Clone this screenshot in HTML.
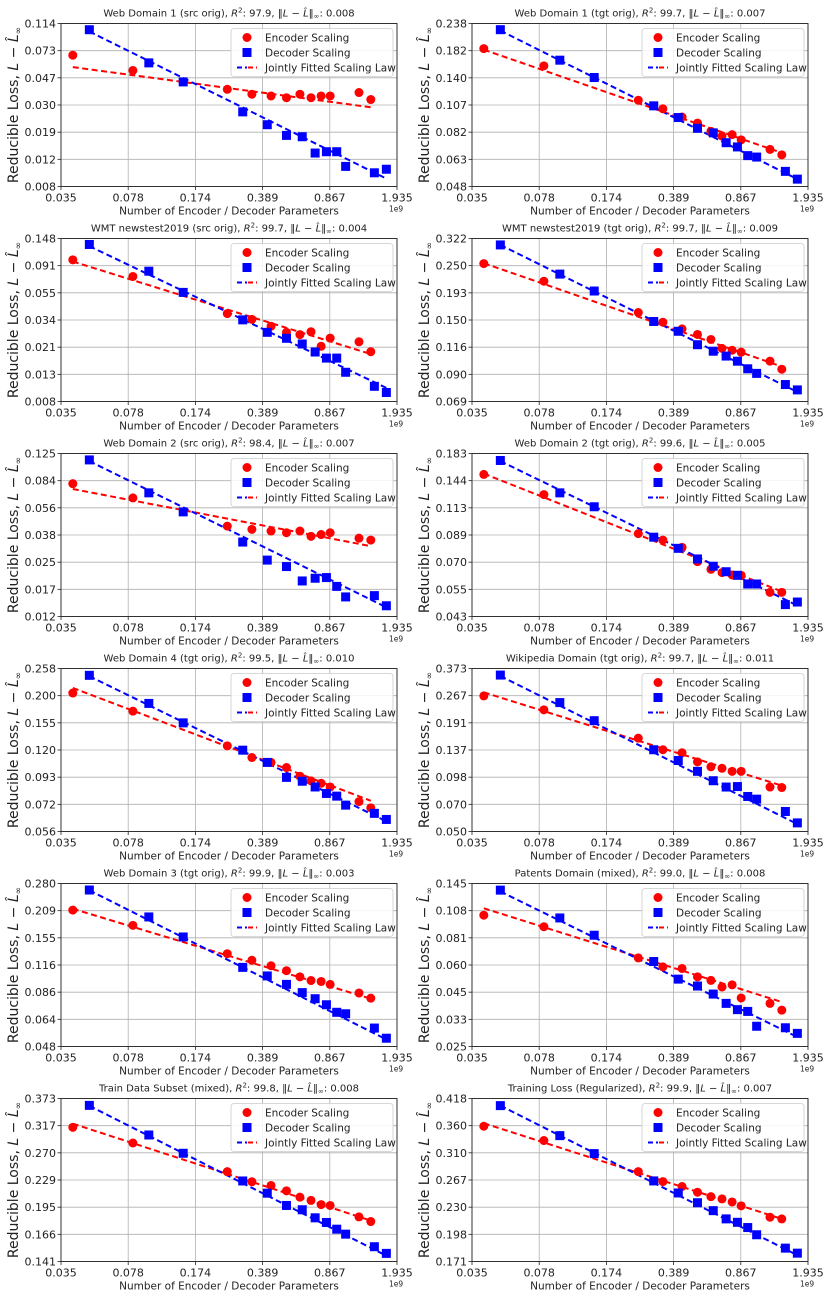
<!DOCTYPE html>
<html><head><meta charset="utf-8"><style>
html,body{margin:0;padding:0;background:#fff;}
svg{display:block;font-family:"DejaVu Sans","Liberation Sans",sans-serif;}
</style></head><body>
<svg id="fig" width="830" height="1297" viewBox="0 0 830 1297" xmlns="http://www.w3.org/2000/svg"></svg>
<script>
// shared x values (in units of 1e9 parameters)
const encX = [0.0403,0.0826,0.255,0.342,0.430,0.517,0.607,0.693,0.782,0.871,1.229,1.415];
const decX = [0.0491,0.0999,0.1506,0.3066,0.411,0.517,0.624,0.728,0.833,0.942,1.048,1.477,1.704];
const xTicks = [0.035,0.078,0.174,0.389,0.867,1.935];
const xTickLabels = ["0.035","0.078","0.174","0.389","0.867","1.935"];

const titles = [
 ["Web Domain 1 (src orig)","97.9","0.008"],
 ["Web Domain 1 (tgt orig)","99.7","0.007"],
 ["WMT newstest2019 (src orig)","99.7","0.004"],
 ["WMT newstest2019 (tgt orig)","99.7","0.009"],
 ["Web Domain 2 (src orig)","98.4","0.007"],
 ["Web Domain 2 (tgt orig)","99.6","0.005"],
 ["Web Domain 4 (tgt orig)","99.5","0.010"],
 ["Wikipedia Domain (tgt orig)","99.7","0.011"],
 ["Web Domain 3 (tgt orig)","99.9","0.003"],
 ["Patents Domain (mixed)","99.0","0.008"],
 ["Train Data Subset (mixed)","99.8","0.008"],
 ["Training Loss (Regularized)","99.9","0.007"]
];
const yTickLabels = [
 ["0.008","0.012","0.019","0.030","0.047","0.073","0.114"],
 ["0.048","0.063","0.082","0.107","0.140","0.182","0.238"],
 ["0.008","0.013","0.021","0.034","0.055","0.091","0.148"],
 ["0.069","0.090","0.116","0.150","0.193","0.250","0.322"],
 ["0.012","0.017","0.025","0.038","0.056","0.084","0.125"],
 ["0.043","0.055","0.070","0.089","0.113","0.144","0.183"],
 ["0.056","0.072","0.093","0.120","0.155","0.200","0.258"],
 ["0.050","0.070","0.098","0.137","0.191","0.267","0.373"],
 ["0.048","0.064","0.086","0.116","0.155","0.209","0.280"],
 ["0.025","0.033","0.045","0.060","0.081","0.108","0.145"],
 ["0.141","0.166","0.195","0.229","0.270","0.317","0.373"],
 ["0.171","0.198","0.230","0.267","0.310","0.360","0.418"]
];
const encY = [
 [0.068,0.053,0.039,0.036,0.035,0.034,0.036,0.034,0.035,0.035,0.037,0.033],
 [0.186,0.157,0.112,0.103,0.095,0.0895,0.0825,0.0788,0.0799,0.0759,0.0691,0.0655],
 [0.101,0.075,0.0386,0.0348,0.0308,0.0276,0.0265,0.0279,0.0215,0.0249,0.0233,0.0195],
 [0.254,0.215,0.160,0.146,0.137,0.130,0.124,0.114,0.112,0.110,0.101,0.0936],
 [0.081,0.066,0.044,0.042,0.041,0.040,0.041,0.038,0.039,0.040,0.037,0.036],
 [0.152,0.127,0.0898,0.0848,0.0795,0.070,0.0654,0.0635,0.0622,0.062,0.0533,0.0533],
 [0.205,0.173,0.125,0.112,0.107,0.102,0.094,0.090,0.088,0.085,0.0741,0.0699],
 [0.266,0.224,0.158,0.137,0.132,0.118,0.111,0.109,0.105,0.105,0.0865,0.086],
 [0.210,0.178,0.131,0.122,0.115,0.109,0.102,0.098,0.097,0.094,0.0856,0.081],
 [0.103,0.091,0.065,0.059,0.058,0.053,0.051,0.0475,0.0486,0.0422,0.0398,0.037],
 [0.314,0.286,0.241,0.227,0.222,0.215,0.207,0.203,0.198,0.197,0.184,0.179],
 [0.359,0.332,0.280,0.265,0.258,0.250,0.244,0.241,0.237,0.232,0.218,0.216]
];
const decY = [
 [0.103,0.060,0.044,0.027,0.0219,0.0184,0.0180,0.0138,0.0141,0.0141,0.0111,0.0100,0.0106],
 [0.224,0.166,0.140,0.106,0.0945,0.085,0.0813,0.0738,0.0708,0.065,0.0641,0.0557,0.0516],
 [0.133,0.0824,0.0564,0.0345,0.0276,0.0248,0.0224,0.0194,0.0174,0.0174,0.0135,0.0105,0.0094],
 [0.303,0.230,0.196,0.147,0.134,0.118,0.111,0.106,0.101,0.094,0.090,0.081,0.077],
 [0.114,0.071,0.054,0.035,0.027,0.0246,0.020,0.0208,0.021,0.0185,0.0159,0.0162,0.014],
 [0.172,0.129,0.114,0.087,0.0788,0.0717,0.0672,0.064,0.062,0.0574,0.0574,0.0478,0.0489],
 [0.242,0.186,0.155,0.120,0.107,0.093,0.0897,0.085,0.080,0.078,0.0717,0.0664,0.0627],
 [0.344,0.245,0.196,0.137,0.120,0.105,0.0935,0.0865,0.087,0.077,0.0745,0.064,0.0556],
 [0.261,0.195,0.157,0.113,0.103,0.094,0.086,0.0805,0.0754,0.0695,0.0684,0.0586,0.0525],
 [0.135,0.100,0.083,0.0625,0.0517,0.048,0.044,0.0398,0.0372,0.0365,0.0311,0.0306,0.0288],
 [0.358,0.300,0.269,0.228,0.212,0.197,0.192,0.183,0.178,0.171,0.166,0.154,0.148],
 [0.402,0.341,0.309,0.266,0.249,0.236,0.226,0.216,0.212,0.206,0.198,0.184,0.179]
];
// fitted line endpoint values [at first x, at last x]
const encFit = [[0.056,0.0291],[0.184,0.0668],[0.098,0.0187],[0.255,0.096],[0.075,0.033],[0.153,0.0537],
 [0.215,0.0747],[0.278,0.088],[0.213,0.0805],[0.111,0.0404],[0.321,0.180],[0.365,0.216]];
const decFit = [[0.100,0.0091],[0.222,0.0516],[0.129,0.0102],[0.303,0.0755],[0.112,0.0137],[0.171,0.0474],
 [0.240,0.0616],[0.340,0.0548],[0.260,0.0518],[0.133,0.0277],[0.357,0.146],[0.402,0.177]];

const NS = "http://www.w3.org/2000/svg";
const fig = document.getElementById("fig");
function mk(tag, attrs, parent){
  const e = document.createElementNS(NS, tag);
  for (const k in attrs) e.setAttribute(k, attrs[k]);
  (parent||fig).appendChild(e);
  return e;
}
const W = 336, H = 163;
for (let p = 0; p < 12; p++) {
  const col = p % 2, row = Math.floor(p / 2);
  const L = col ? 472 : 61, T = 23.5 + row * 215;
  const g = mk("g", {});
  
  
  const ylab = yTickLabels[p];
  const ymin = parseFloat(ylab[0]), ymax = parseFloat(ylab[6]);
  const xmin = xTicks[0], xmax = xTicks[5];
  const sx = v => L + W * Math.log(v / xmin) / Math.log(xmax / xmin);
  const sy = v => T + H - H * Math.log(v / ymin) / Math.log(ymax / ymin);
  // grid
  for (let i = 0; i < 6; i++) {
    const x = L + W * i / 5;
    const gl = mk("line", {x1:x, x2:x, y1:T, y2:T+H, stroke:"#b0b0b0", "stroke-width":0.8}, g);
    
    
    const t = mk("text", {x:x, y:T+H+15, "text-anchor":"middle", "font-size":11, fill:"#222"}, g);
    t.textContent = xTickLabels[i];
    
    
    mk("line", {x1:x, x2:x, y1:T+H, y2:T+H+3.5, stroke:"#222", "stroke-width":0.8}, g);
  }
  for (let i = 0; i < 7; i++) {
    const y = T + H - H * i / 6;
    const gl = mk("line", {x1:L, x2:L+W, y1:y, y2:y, stroke:"#b0b0b0", "stroke-width":0.8}, g);
    
    
    mk("line", {x1:L-3.5, x2:L, y1:y, y2:y, stroke:"#222", "stroke-width":0.8}, g);
    const t = mk("text", {x:L-5, y:y+4, "text-anchor":"end", "font-size":11, fill:"#222"}, g);
    t.textContent = ylab[i];
    
    
  }
  // fit lines
  const ef = mk("line", {x1:sx(encX[0]), y1:sy(encFit[p][0]), x2:sx(encX[encX.length-1]), y2:sy(encFit[p][1]), stroke:"#f00", "stroke-width":2, "stroke-dasharray":"6,3.5"}, g);
  
  
  const df = mk("line", {x1:sx(decX[0]), y1:sy(decFit[p][0]), x2:sx(decX[decX.length-1]), y2:sy(decFit[p][1]), stroke:"#00f", "stroke-width":2, "stroke-dasharray":"6,3.5"}, g);
  
  
  // points
  encX.forEach((x, i) => {
    const c = mk("circle", {cx:sx(x), cy:sy(encY[p][i]), r:4.5, fill:"#f00"}, g);
    
    
  });
  decX.forEach((x, i) => {
    const r = mk("rect", {x:sx(x)-4.5, y:sy(decY[p][i])-4.5, width:9, height:9, fill:"#00f"}, g);
    
    
  });
  // frame
  const fr = mk("rect", {x:L, y:T, width:W, height:H, fill:"none", stroke:"#222", "stroke-width":0.9}, g);
  
  
  // legend
  const lg = mk("g", {}, g);
  
  
  const LX = L + 170, LY = T + 5;
  mk("rect", {x:LX, y:LY, width:162, height:48, rx:3, fill:"#fff", "fill-opacity":0.85, stroke:"#ccc", "stroke-width":0.8}, lg);
  mk("circle", {cx:LX+16, cy:LY+9, r:4.5, fill:"#f00"}, lg);
  mk("rect", {x:LX+11.5, y:LY+19.5, width:9, height:9, fill:"#00f"}, lg);
  mk("line", {x1:LX+6, x2:LX+16, y1:LY+39, y2:LY+39, stroke:"#00f", "stroke-width":2, "stroke-dasharray":"5,3"}, lg);
  mk("line", {x1:LX+17, x2:LX+26, y1:LY+39, y2:LY+39, stroke:"#f00", "stroke-width":2, "stroke-dasharray":"5,3"}, lg);
  [["Encoder Scaling",13],["Decoder Scaling",28],["Jointly Fitted Scaling Law",43]].forEach(([s,dy]) => {
    const t = mk("text", {x:LX+34, y:LY+dy, "font-size":10.5, fill:"#222"}, lg);
    t.textContent = s;
    
    
  });
  // title
  const tt = mk("text", {x:L+W/2, y:T-7, "text-anchor":"middle", "font-size":10, fill:"#222"}, g);
  
  
  tt.innerHTML = titles[p][0] + ', <tspan font-style="italic">R</tspan><tspan font-size="7" dy="-4">2</tspan><tspan dy="4">: ' + titles[p][1] + ', \u2016</tspan><tspan font-style="italic">L</tspan> \u2212 <tspan font-style="italic">L\u0302</tspan>\u2016<tspan font-size="7" dy="2">\u221e</tspan><tspan dy="-2">: ' + titles[p][2] + '</tspan>';
  // x label
  const xl = mk("text", {x:L+W/2, y:T+H+28, "text-anchor":"middle", "font-size":10.5, fill:"#222"}, g);
  xl.textContent = "Number of Encoder / Decoder Parameters";
  
  
  const ex = mk("text", {x:L+W-8, y:T+H+25, "font-size":7.5, fill:"#222"}, g);
  ex.textContent = "1e9";
  
  
  // y label
  const yx = L - 43, yy = T + H/2;
  const yl = mk("text", {x:yx, y:yy, "text-anchor":"middle", "font-size":14, fill:"#222", transform:"rotate(-90 "+yx+" "+yy+")"}, g);
  
  
  yl.innerHTML = 'Reducible Loss, <tspan font-style="italic">L</tspan> \u2212 <tspan font-style="italic">L\u0302</tspan><tspan font-size="9" dy="3">\u221e</tspan>';
}
</script>
</body></html>
